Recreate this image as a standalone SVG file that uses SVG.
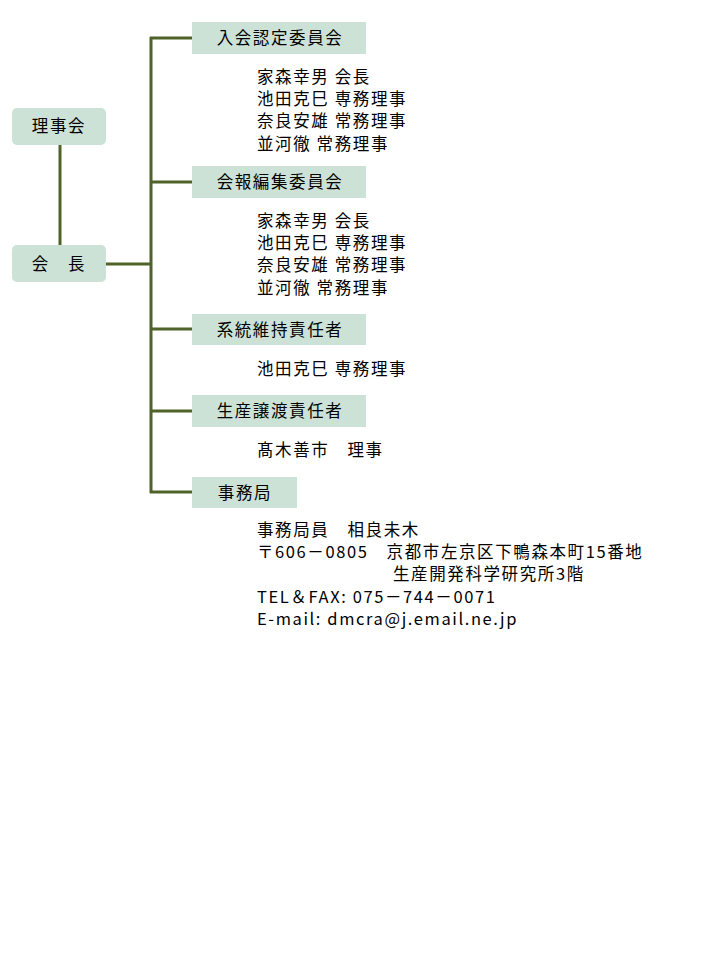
<svg xmlns="http://www.w3.org/2000/svg" width="720" height="960" viewBox="0 0 720 960">
<style>
.b{fill:#cde2d6}
.t{font-family:"Noto Sans CJK JP","Liberation Sans",sans-serif;font-size:16.5px;fill:#000;letter-spacing:1.6px}
.c{stroke:#4f6228;stroke-width:3;fill:none}
</style>
<rect width="720" height="960" fill="#fff"/>
<g id="connectors" class="c">
<path d="M60 145V245M106 264H151M151 37V493M150 38H192M150 182H192M150 329H192M150 411H192M150 492H192"/>
</g>
<g id="rijikai"><rect class="b" x="12" y="108" width="94" height="37" rx="5"/><text class="t" x="59" y="132" text-anchor="middle">理事会</text></g>
<g id="kaicho"><rect class="b" x="12" y="245" width="94" height="37" rx="5"/><text class="t" x="59" y="270" text-anchor="middle">会　長</text></g>
<g id="n1"><rect class="b" x="192" y="22" width="174" height="32"/><text class="t" x="280" y="44" text-anchor="middle">入会認定委員会</text></g>
<g id="n2"><rect class="b" x="192" y="166" width="174" height="32"/><text class="t" x="280" y="188" text-anchor="middle">会報編集委員会</text></g>
<g id="n3"><rect class="b" x="192" y="314" width="174" height="31"/><text class="t" x="280" y="336" text-anchor="middle">系統維持責任者</text></g>
<g id="n4"><rect class="b" x="192" y="395" width="174" height="32"/><text class="t" x="280" y="417" text-anchor="middle">生産譲渡責任者</text></g>
<g id="n5"><rect class="b" x="192" y="477" width="105" height="31"/><text class="t" x="245" y="499" text-anchor="middle">事務局</text></g>
<g id="members" class="t">
<text x="257" y="83">家森幸男 会長</text>
<text x="257" y="105">池田克巳 専務理事</text>
<text x="257" y="127">奈良安雄 常務理事</text>
<text x="257" y="150">並河徹 常務理事</text>
<text x="257" y="227">家森幸男 会長</text>
<text x="257" y="249">池田克巳 専務理事</text>
<text x="257" y="271">奈良安雄 常務理事</text>
<text x="257" y="294">並河徹 常務理事</text>
<text x="257" y="375">池田克巳 専務理事</text>
<text x="257" y="456">髙木善市　理事</text>
<text x="257" y="536">事務局員　相良未木</text>
<text x="257" y="558">〒606－0805　京都市左京区下鴨森本町15番地</text>
<text x="393" y="580">生産開発科学研究所3階</text>
<text x="257" y="603">TEL＆FAX: 075－744－0071</text>
<text x="257" y="625">E-mail: dmcra@j.email.ne.jp</text>
</g>
</svg>
